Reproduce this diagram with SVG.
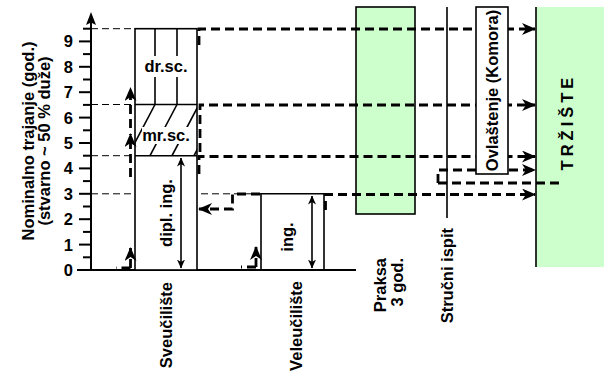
<svg xmlns="http://www.w3.org/2000/svg" width="604" height="372" viewBox="0 0 604 372">
<style>
.t{font-family:"Liberation Sans",Arial,sans-serif;font-weight:bold;font-size:16.5px;fill:#000}
.grid{stroke:#000;stroke-width:1;stroke-dasharray:7,4;fill:none}
.con{stroke:#000;stroke-width:2.8;stroke-dasharray:9,5;fill:none}
.edge{stroke:#000;stroke-width:1.6;fill:none}
.box{stroke:#000;stroke-width:1.6;fill:#fff}
.tick{stroke:#000;stroke-width:2}
</style>
<defs>
<marker id="ah" markerUnits="userSpaceOnUse" markerWidth="14" markerHeight="12" refX="13" refY="6" orient="auto">
<path d="M0,0 L14,6 L0,12 L4,6 z" fill="#000"/>
</marker>
<marker id="as" markerUnits="userSpaceOnUse" markerWidth="9" markerHeight="8" refX="8.5" refY="4" orient="auto-start-reverse">
<path d="M0,0 L9,4 L0,8 L2.5,4 z" fill="#000"/>
</marker>
<clipPath id="mrclip"><rect x="135" y="104.5" width="62" height="51.2"/></clipPath>
</defs>

<g id="grid">
<line class="grid" x1="91" y1="28.7" x2="135" y2="28.7"/>
<line class="grid" x1="91" y1="104.5" x2="135" y2="104.5"/>
<line class="grid" x1="91" y1="155.7" x2="135" y2="155.7"/>
<line class="grid" x1="91" y1="193.8" x2="261" y2="193.8"/>
</g>

<g id="axis">
<line x1="91" y1="271" x2="91" y2="20" stroke="#000" stroke-width="2"/>
<path d="M91,12 L96,25 L91,22.5 L86,25 z" fill="#000"/>
<g class="tick">
<line x1="79" y1="244.6" x2="91" y2="244.6"/><line x1="79" y1="219.2" x2="91" y2="219.2"/>
<line x1="79" y1="193.8" x2="91" y2="193.8"/><line x1="79" y1="168.4" x2="91" y2="168.4"/>
<line x1="79" y1="143" x2="91" y2="143"/><line x1="79" y1="117.6" x2="91" y2="117.6"/>
<line x1="79" y1="92.2" x2="91" y2="92.2"/><line x1="79" y1="66.8" x2="91" y2="66.8"/>
<line x1="79" y1="41.4" x2="91" y2="41.4"/>
<line x1="83" y1="257.3" x2="91" y2="257.3"/><line x1="83" y1="231.9" x2="91" y2="231.9"/>
<line x1="83" y1="206.5" x2="91" y2="206.5"/><line x1="83" y1="181.1" x2="91" y2="181.1"/>
<line x1="83" y1="155.7" x2="91" y2="155.7"/><line x1="83" y1="130.3" x2="91" y2="130.3"/>
<line x1="83" y1="104.9" x2="91" y2="104.9"/><line x1="83" y1="79.5" x2="91" y2="79.5"/>
<line x1="83" y1="54.1" x2="91" y2="54.1"/><line x1="83" y1="28.7" x2="91" y2="28.7"/>
</g>
<g class="t" text-anchor="end">
<text x="73" y="276">0</text><text x="73" y="250.6">1</text><text x="73" y="225.2">2</text>
<text x="73" y="199.8">3</text><text x="73" y="174.4">4</text><text x="73" y="149">5</text>
<text x="73" y="123.6">6</text><text x="73" y="98.2">7</text><text x="73" y="72.8">8</text>
<text x="73" y="47.4">9</text>
</g>
<text class="t" text-anchor="middle" transform="translate(34,141) rotate(-90)">Nominalno trajanje (god.)</text>
<text class="t" text-anchor="middle" transform="translate(50,141) rotate(-90)">(stvarno ~ 50 % duže)</text>
<line x1="77" y1="270" x2="356" y2="270" stroke="#000" stroke-width="2"/>
</g>

<g id="sveuciliste">
<rect class="box" x="135" y="28.7" width="62" height="241.3"/>
<line class="edge" x1="135" y1="104.5" x2="197" y2="104.5"/>
<line class="edge" x1="135" y1="155.7" x2="197" y2="155.7"/>
<line class="edge" x1="155" y1="28.7" x2="155" y2="104.5"/>
<line class="edge" x1="177" y1="28.7" x2="177" y2="104.5"/>
<g clip-path="url(#mrclip)" stroke="#000" stroke-width="1.6">
<line x1="106" y1="155.7" x2="133" y2="104.5"/>
<line x1="128" y1="155.7" x2="155" y2="104.5"/>
<line x1="150" y1="155.7" x2="177" y2="104.5"/>
<line x1="172" y1="155.7" x2="199" y2="104.5"/>
<line x1="194" y1="155.7" x2="221" y2="104.5"/>
</g>
<rect x="144" y="56" width="44" height="21" fill="#fff"/>
<rect x="142" y="127" width="49" height="17" fill="#fff"/>
<text class="t" x="166" y="72" text-anchor="middle">dr.sc.</text>
<text class="t" x="166" y="141" text-anchor="middle">mr.sc.</text>
<line class="edge" x1="181" y1="158" x2="181" y2="268" marker-start="url(#as)" marker-end="url(#as)"/>
<text class="t" text-anchor="middle" transform="translate(172,213) rotate(-90)">dipl. ing.</text>
<text class="t" text-anchor="end" transform="translate(172,282) rotate(-90)">Sveučilište</text>
</g>

<g id="veleuciliste">
<path class="edge" d="M261,270 V193.8 H324 V270"/>
<line class="edge" x1="312" y1="196" x2="312" y2="268" marker-start="url(#as)" marker-end="url(#as)"/>
<text class="t" text-anchor="middle" transform="translate(293,237) rotate(-90)">ing.</text>
<text class="t" text-anchor="end" transform="translate(302,281) rotate(-90)">Veleučilište</text>
</g>

<g id="praksa">
<rect x="356" y="7" width="59" height="207" fill="#ccffcc" stroke="#000" stroke-width="1.6"/>
<text class="t" text-anchor="end" transform="translate(386,258) rotate(-90)">Praksa</text>
<text class="t" text-anchor="end" transform="translate(403,258) rotate(-90)">3 god.</text>
</g>

<g id="strucni-ispit">
<line class="edge" x1="447" y1="7" x2="447" y2="218"/>
<text class="t" text-anchor="end" transform="translate(453,228) rotate(-90)">Stručni ispit</text>
</g>

<g id="trziste">
<rect x="536" y="7" width="68" height="260" fill="#ccffcc"/>
<line x1="536" y1="7" x2="536" y2="267" stroke="#000" stroke-width="1.6"/>
<text class="t" text-anchor="middle" letter-spacing="4" transform="translate(573,122) rotate(-90)">TRŽIŠTE</text>
</g>

<g id="connectors">
<path class="con" d="M130.5,268 H116 M130.5,268 V248" marker-end="url(#ah)"/>
<path class="con" d="M130.5,177 V134" marker-end="url(#ah)"/>
<path class="con" d="M130.5,128 V88" marker-end="url(#ah)"/>
<path class="con" d="M256,267 H241 M256,267 V247" marker-end="url(#ah)"/>
<path class="con" d="M260,194 H232.5 V209 H199" marker-end="url(#ah)"/>
<path class="con" d="M199,45 V29 H535" marker-end="url(#ah)"/>
<path class="con" d="M200,152 V105 H535" marker-end="url(#ah)"/>
<path class="con" d="M199,174 V156.5 H535" marker-end="url(#ah)"/>
<path class="con" d="M325.5,210 V194.5 H535" marker-end="url(#ah)"/>
<path class="con" d="M438,183 V170 H535" marker-end="url(#ah)"/>
<path class="con" d="M438,183 H562"/>
</g>

<g id="ovlastenje">
<rect class="box" x="476" y="7" width="32" height="167"/>
<text class="t" text-anchor="middle" transform="translate(498,90.5) rotate(-90)">Ovlaštenje (Komora)</text>
</g>
</svg>
